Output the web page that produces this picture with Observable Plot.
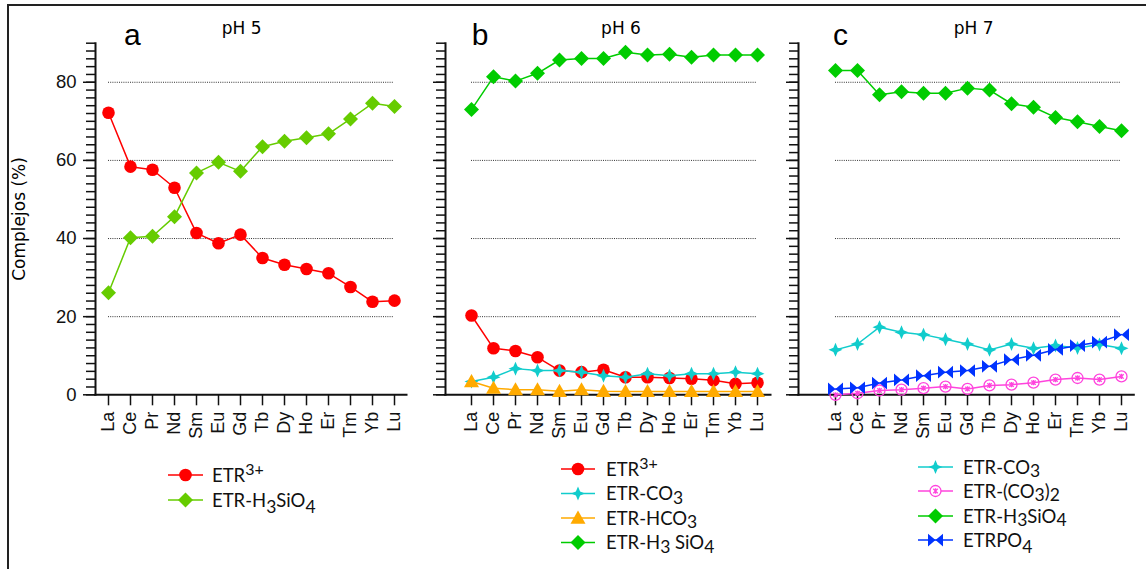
<!DOCTYPE html>
<html><head><meta charset="utf-8">
<script src="https://cdn.jsdelivr.net/npm/d3@7"></script>
<script src="https://cdn.jsdelivr.net/npm/@observablehq/plot@0.6"></script>
<style>
body{margin:0;background:#fff;}
#root{position:relative;width:1146px;height:569px;overflow:hidden;background:#fff;}
#root svg{position:absolute;left:0;top:0;overflow:visible;}
.frame{position:absolute;left:7px;top:4px;right:-20px;bottom:-20px;border-left:2px solid #222;border-top:2px solid #222;}
</style></head>
<body><div id="root"><div class="frame"></div></div>
<script>
// ---- data ----
const elements = ["La","Ce","Pr","Nd","Sm","Eu","Gd","Tb","Dy","Ho","Er","Tm","Yb","Lu"];
const yMajorTicks = [0,20,40,60,80];
const yLabel = "Complejos (%)";
const panelLetters = ["a","b","c"];
const panelTitles = ["pH 5","pH 6","pH 7"];
// pH 5
const ph5_ETR3   = [72.2,58.4,57.6,53.0,41.4,38.8,41.0,35.0,33.3,32.2,31.1,27.6,23.8,24.1];
const ph5_H3SiO4 = [26.1,40.2,40.6,45.6,56.8,59.5,57.2,63.5,64.9,65.8,66.8,70.6,74.6,73.8];
// pH 6
const ph6_ETR3   = [20.3,11.9,11.2,9.6,6.2,5.8,6.4,4.5,4.5,4.3,4.1,3.7,2.8,3.1];
const ph6_CO3    = [3.4,4.5,6.7,6.2,6.2,5.8,4.9,4.5,5.4,4.9,5.4,5.4,5.8,5.4];
const ph6_HCO3   = [3.4,1.7,1.3,1.3,0.9,1.3,0.9,0.85,0.85,0.85,0.85,0.85,0.85,0.85];
const ph6_H3SiO4 = [73.0,81.4,80.3,82.3,85.7,86.1,86.1,87.7,87.0,87.2,86.4,87.0,87.0,87.0];
// pH 7
const ph7_CO3    = [11.5,13.0,17.3,16.0,15.4,14.2,13.0,11.5,13.0,11.9,12.6,12.0,12.9,11.9];
const ph7_CO3_2  = [0.0,0.4,1.1,1.3,1.7,2.1,1.5,2.4,2.6,3.1,3.9,4.3,3.9,4.7];
const ph7_H3SiO4 = [83.0,83.0,76.8,77.6,77.2,77.2,78.5,78.0,74.5,73.6,71.0,69.9,68.7,67.6];
const ph7_PO4    = [1.5,1.8,3.0,3.8,4.9,5.8,6.2,7.3,9.0,10.1,11.6,12.6,13.5,15.4];

// ---- symbols ----
const rOf = s => Math.sqrt(s / Math.PI);
const diamond = {draw(c, s){const r = rOf(s); c.moveTo(0,-r); c.lineTo(r,0); c.lineTo(0,r); c.lineTo(-r,0); c.closePath();}};
const triangle = {draw(c, s){const r = rOf(s); c.moveTo(0,-r); c.lineTo(r,0.75*r); c.lineTo(-r,0.75*r); c.closePath();}};
const star4 = {draw(c, s){const r = rOf(s), q = r*0.3; c.moveTo(0,-r); c.lineTo(q,-q); c.lineTo(r,0); c.lineTo(q,q); c.lineTo(0,r); c.lineTo(-q,q); c.lineTo(-r,0); c.lineTo(-q,-q); c.closePath();}};
const bowtie = {draw(c, s){const r = rOf(s), h = r*0.85; c.moveTo(-r,-h); c.lineTo(0,0); c.lineTo(-r,h); c.closePath(); c.moveTo(r,-h); c.lineTo(0,0); c.lineTo(r,h); c.closePath();}};
const circX = {draw(c, s){const r = rOf(s); c.moveTo(r,0); c.arc(0,0,r,0,2*Math.PI); const k = r*0.4; c.moveTo(-k,-k); c.lineTo(k,k); c.moveTo(k,-k); c.lineTo(-k,k); c.moveTo(0,-k*1.2); c.lineTo(0,k*1.2);}};

const panels = [
  {axisX:95, range:[95,406], labels:true, series:[
    {values:ph5_ETR3,   color:"#ff0000", symbol:"circle", r:6.3, legend:[["ETR"],["3+","sup"]]},
    {values:ph5_H3SiO4, color:"#66cc00", symbol:diamond,  r:7.5, legend:[["ETR-H"],["3","sub"],["SiO"],["4","sub"]]}
  ], legendPos:{line:[168,203], text:212, rows:[475,500]}},
  {axisX:445, range:[457.3,770], labels:false, series:[
    {values:ph6_ETR3,   color:"#ff0000", symbol:"circle", r:6.3, legend:[["ETR"],["3+","sup"]]},
    {values:ph6_CO3,    color:"#11cccc", symbol:star4,    r:7,   legend:[["ETR-CO"],["3","sub2"]]},
    {values:ph6_HCO3,   color:"#ffaa00", symbol:triangle, r:7.5, legend:[["ETR-HCO"],["3","sub2"]]},
    {values:ph6_H3SiO4, color:"#00cc00", symbol:diamond,  r:7.5, legend:[["ETR-H"],["3","sub2"],[" SiO"],["4","sub2"]]}
  ], legendPos:{line:[561,595], text:606, rows:[469,493.5,518,542.5]}},
  {axisX:798, range:[821.7,1133.3], labels:false, series:[
    {values:ph7_CO3,    color:"#11cccc", symbol:star4,    r:7,   legend:[["ETR-CO"],["3","sub2"]]},
    {values:ph7_CO3_2,  color:"#ff44dd", symbol:circX,    r:5.5, hollow:true, legend:[["ETR-(CO"],["3","sub2"],[")"],["2","sub2"]]},
    {values:ph7_H3SiO4, color:"#00cc00", symbol:diamond,  r:7.5, legend:[["ETR-H"],["3","sub2"],["SiO"],["4","sub2"]]},
    {values:ph7_PO4,    color:"#0033ff", symbol:bowtie,   r:7.5, legend:[["ETRPO"],["4","sub"]]}
  ], legendPos:{line:[918,953], text:963, rows:[467,491,516,540]}}
];

const W = 1146, H = 569, yTop = 42.7, yBot = 394.3;
const root = document.getElementById("root");

for (const p of panels) {
  const marks = [
    Plot.ruleY(yMajorTicks.filter(d => d > 0), {x1: () => elements[0], x2: () => elements[elements.length-1], stroke:"#333", strokeDasharray:"1,1.2", strokeWidth:1}),
    Plot.axisY(d3.range(0, 91, 2), {anchor:"left", tickSize:9, tickFormat:() => "", label:null, strokeWidth:1.5}),
    Plot.axisY(yMajorTicks, {anchor:"left", tickSize:12, tickPadding:7, tickFormat: p.labels ? (d => String(d)) : (() => ""), label:null, strokeWidth:1.5, fontSize:18.5}),
    Plot.frame({anchor:"left", strokeWidth:2}),
    Plot.frame({anchor:"bottom", strokeWidth:2}),
    Plot.axisX({tickSize:11, tickRotate:-90, tickPadding:6, label:null, fontSize:18, strokeWidth:1.5})
  ];
  for (const s of p.series) {
    const d = elements.map((e, i) => ({el:e, v:s.values[i]}));
    marks.push(Plot.line(d, {x:"el", y:"v", stroke:s.color, strokeWidth:1.5}));
    marks.push(Plot.dot(d, {x:"el", y:"v", symbol:s.symbol, r:s.r,
      fill: s.hollow ? "none" : s.color, stroke: s.hollow ? s.color : "none", strokeWidth:1.3}));
  }
  const svg = Plot.plot({
    width:W, height:H,
    marginLeft:p.axisX, marginRight:W - p.range[1], marginTop:yTop, marginBottom:H - yBot,
    x:{type:"point", domain:elements, range:p.range},
    y:{domain:[0,90], range:[yBot, yTop]},
    style:{fontFamily:"'Liberation Sans', Arial, sans-serif", fontSize:"18px", color:"#111", background:"transparent", overflow:"visible"},
    marks
  });
  root.appendChild(svg);
}

// ---- overlay: titles, letters, y label, legends ----
const ov = d3.select(root).append("svg").attr("width", W).attr("height", H);
const letterX = [132.4, 480, 840.5];
const titleX = [241.7, 621, 973.7];
panelLetters.forEach((t, i) => ov.append("text").attr("x", letterX[i]).attr("y", 45).attr("text-anchor","middle")
  .attr("font-family","'Liberation Sans', Arial, sans-serif").attr("font-size", 30).text(t));
panelTitles.forEach((t, i) => ov.append("text").attr("x", titleX[i]).attr("y", 34).attr("text-anchor","middle")
  .attr("font-family","'DejaVu Sans'").attr("font-size", 17).text(t));
ov.append("text").attr("transform","translate(25,219) rotate(-90)").attr("text-anchor","middle")
  .attr("font-family","'DejaVu Sans'").attr("font-size", 17).text(yLabel);

for (const p of panels) {
  const L = p.legendPos;
  p.series.forEach((s, i) => {
    const y = L.rows[i];
    ov.append("line").attr("x1", L.line[0]).attr("x2", L.line[1]).attr("y1", y).attr("y2", y)
      .attr("stroke", s.color).attr("stroke-width", 1.5);
    const sym = s.symbol === "circle" ? d3.symbolCircle : s.symbol;
    ov.append("path").attr("d", d3.symbol(sym, s.r*s.r*Math.PI)())
      .attr("transform", `translate(${(L.line[0]+L.line[1])/2},${y})`)
      .attr("fill", s.hollow ? "#fff" : s.color).attr("stroke", s.hollow ? s.color : "none").attr("stroke-width", 1.3);
    const t = ov.append("text").attr("x", L.text).attr("y", y + 6.5)
      .attr("font-family","Lato, 'Noto Sans', sans-serif").attr("font-size", 18.5).attr("fill","#111");
    let shift = 0;
    for (const [str, kind] of s.legend) {
      let target = 0, size = 18.5;
      if (kind === "sup") { target = -7; size = 16; }
      else if (kind === "sub") { target = 6; size = 17.5; }
      else if (kind === "sub2") { target = 3.5; size = 17.5; }
      t.append("tspan").attr("dy", target - shift).attr("font-size", size).text(str);
      shift = target;
    }
  });
}
</script>
</body></html>
